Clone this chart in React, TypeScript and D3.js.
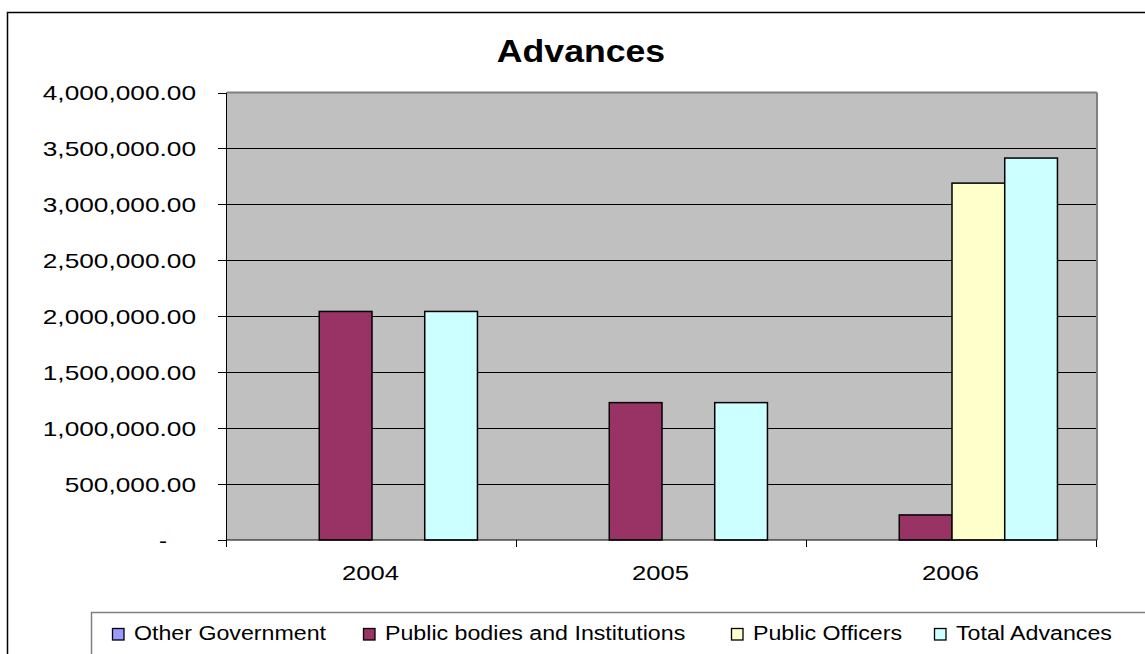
import React from "react";
import * as d3 from "d3";

const categories = ["2004", "2005", "2006"];
const seriesNames = ["Other Government", "Public bodies and Institutions", "Public Officers", "Total Advances"];
const otherGovernment = [0, 0, 0];
const publicBodies = [2043000, 1228000, 224000];
const publicOfficers = [0, 0, 3190000];
const totalAdvances = [2043000, 1228000, 3414000];
const yTickValues = [0, 500000, 1000000, 1500000, 2000000, 2500000, 3000000, 3500000, 4000000];
const seriesColors = ["#9999FF", "#993366", "#FFFFCC", "#CCFFFF"];

const seriesValues = [otherGovernment, publicBodies, publicOfficers, totalAdvances];

const W = 1145;
const H = 654;
const plot = { left: 227, right: 1097, top: 92.5, bottom: 540 };
const FONT = "'Liberation Sans', Arial, sans-serif";
const legendMarkerX = [112, 363, 731, 934];

export default function App() {
  const x = d3.scaleBand<string>().domain(categories).range([plot.left, plot.right]).paddingInner(0).paddingOuter(0);
  const xs = d3.scaleBand<string>().domain(seriesNames).range([0, x.bandwidth()]).paddingInner(0).paddingOuter(0.75);
  const y = d3.scaleLinear().domain([0, 4000000]).range([plot.bottom, plot.top]);
  const fmt = d3.format(",.2f");

  return (
    <svg width={W} height={H} style={{ position: "absolute", left: 0, top: 0, background: "#fff" }} fontFamily={FONT}>
      <rect x={7.5} y={12.5} width={1160} height={680} fill="#fff" stroke="#000" strokeWidth={1.5} />
      <text transform={`translate(581,61.7) scale(1.15,1)`} textAnchor="middle" fontSize={31} fontWeight="bold" fill="#000">Advances</text>

      <rect x={plot.left} y={plot.top} width={plot.right - plot.left} height={plot.bottom - plot.top} fill="#C0C0C0" />
      {yTickValues.filter(v => v > 0 && v < 4000000).map(v => (
        <line key={"g" + v} x1={plot.left} x2={plot.right} y1={Math.round(y(v)) + 0.5} y2={Math.round(y(v)) + 0.5} stroke="#000" strokeWidth={1} />
      ))}
      <line x1={plot.left} x2={plot.right} y1={plot.top} y2={plot.top} stroke="#808080" strokeWidth={2} />
      <line x1={plot.right} x2={plot.right} y1={plot.top} y2={plot.bottom} stroke="#808080" strokeWidth={2} />

      {categories.map((c, ci) =>
        seriesNames.map((s, si) => {
          const v = seriesValues[si][ci];
          if (!v) return null;
          const bx = (x(c) as number) + (xs(s) as number);
          return (
            <rect key={c + s} x={bx} y={y(v)} width={xs.bandwidth()} height={y(0) - y(v)} fill={seriesColors[si]} stroke="#000" strokeWidth={1.5} />
          );
        })
      )}

      <line x1={plot.left - 0.5} x2={plot.left - 0.5} y1={plot.top} y2={plot.bottom} stroke="#000" strokeWidth={1} />
      <line x1={plot.left} x2={plot.right} y1={plot.bottom} y2={plot.bottom} stroke="#000" strokeWidth={1} />

      {yTickValues.map(v => (
        <g key={"t" + v}>
          <line x1={218} x2={plot.left} y1={Math.round(y(v)) + 0.5} y2={Math.round(y(v)) + 0.5} stroke="#000" strokeWidth={1} />
          <text transform={`translate(${v === 0 ? 167 : 196},${y(v) + 7.5}) scale(${v === 0 ? 1.15 : 1.25},1)`} textAnchor="end" fontSize={21} fill="#000">
            {v === 0 ? "-" : fmt(v)}
          </text>
        </g>
      ))}

      {[...categories.map(c => x(c) as number), plot.right].map((bx, i) => (
        <line key={"xt" + i} x1={bx - 0.5} x2={bx - 0.5} y1={plot.bottom} y2={plot.bottom + 7} stroke="#000" strokeWidth={1} />
      ))}
      {categories.map(c => (
        <text key={"xl" + c} transform={`translate(${(x(c) as number) + x.bandwidth() / 2 - 1.5},580) scale(1.22,1)`} textAnchor="middle" fontSize={21} fill="#000">{c}</text>
      ))}

      <rect x={91.5} y={612.5} width={1100} height={80} fill="#fff" stroke="#808080" strokeWidth={1.5} />
      {seriesNames.map((s, i) => (
        <g key={"lg" + s}>
          <rect x={legendMarkerX[i] + 0.5} y={628.5} width={11.5} height={11.5} fill={seriesColors[i]} stroke="#000" strokeWidth={1.3} />
          <text transform={`translate(${legendMarkerX[i] + 22},640) scale(1.16,1)`} fontSize={20} fill="#000">{s}</text>
        </g>
      ))}
    </svg>
  );
}
